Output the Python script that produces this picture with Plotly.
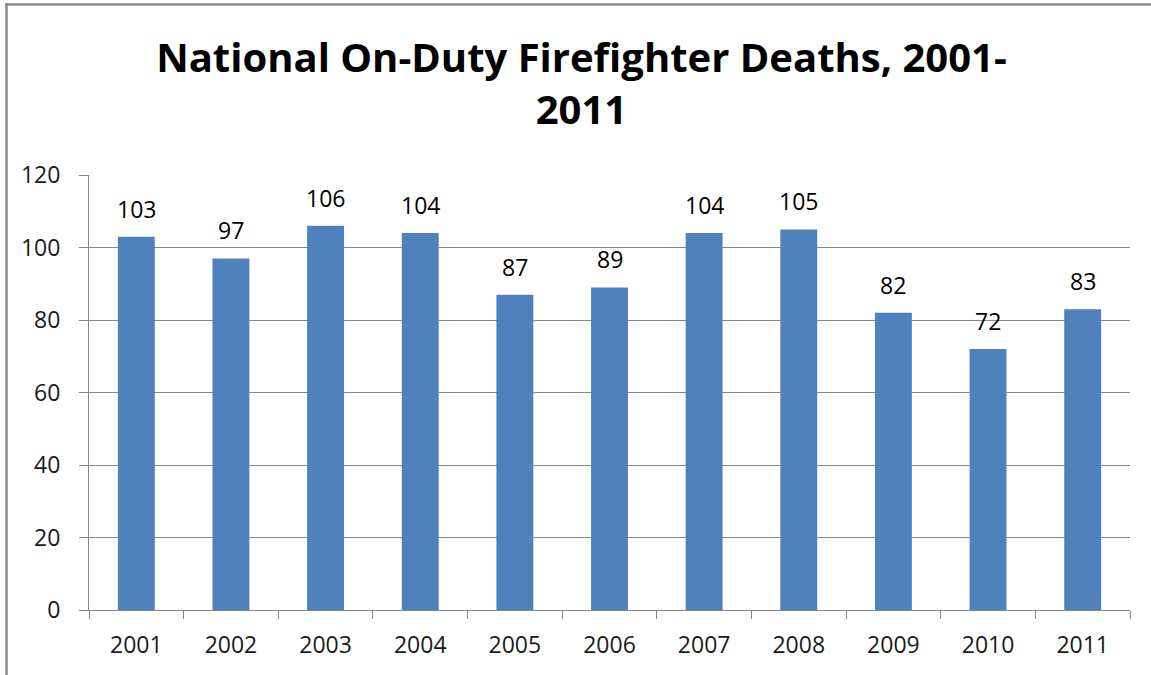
import plotly.graph_objects as go

years = ["2001", "2002", "2003", "2004", "2005", "2006", "2007", "2008", "2009", "2010", "2011"]
deaths = [103, 97, 106, 104, 87, 89, 104, 105, 82, 72, 83]
y_ticks = [0, 20, 40, 60, 80, 100, 120]

W, H = 1151, 675
L, R, T, B = 89, 21, 175, 65
pw, ph = W - L - R, H - T - B
FONT = "Open Sans"

def px_x(x):
    return (x - L) / pw

def px_y(y):
    return (H - B - y) / ph

fig = go.Figure(go.Bar(
    x=years, y=deaths,
    marker=dict(color="#4F81BD", line=dict(width=0)),
    hoverinfo="x+y",
))

# category axis: annotation x given as the category's serial index
annotations = [
    dict(x=i, y=v, xref="x", yref="y", text=str(v), showarrow=False,
         yanchor="bottom", yshift=10,
         font=dict(family=FONT, size=23, color="#000000"))
    for i, v in enumerate(deaths)
]

fig.update_layout(
    width=W, height=H,
    margin=dict(l=L, r=R, t=T, b=B),
    paper_bgcolor="white", plot_bgcolor="white",
    bargap=0.61,
    showlegend=False,
    title=dict(
        text="<b>National On-Duty Firefighter Deaths, 2001-<br>2011</b>",
        x=581.5 / W, xanchor="center", y=1 - 72 / H, yanchor="middle",
        font=dict(family=FONT, size=40, color="#000000"),
    ),
    xaxis=dict(
        type="category", showgrid=False, showline=True, linecolor="#868686", linewidth=1,
        ticks="outside", ticklen=8, tickcolor="#868686", tickson="boundaries",
        ticklabelstandoff=14, tickangle=0,
        tickfont=dict(family=FONT, size=23, color="#1a1a1a"),
    ),
    yaxis=dict(
        range=[0, 120], tickvals=y_ticks, showgrid=True, gridcolor="#878787", gridwidth=1,
        showline=True, linecolor="#868686", linewidth=1, zeroline=False,
        ticks="outside", ticklen=9, tickcolor="#868686", ticklabelstandoff=14,
        tickfont=dict(family=FONT, size=23, color="#1a1a1a"),
    ),
    annotations=annotations,
    shapes=[
        dict(type="line", xref="paper", yref="paper", x0=px_x(6.5), x1=px_x(6.5), y0=px_y(3), y1=px_y(H + 5),
             line=dict(color="#8a8a8a", width=2.5)),
        dict(type="line", xref="paper", yref="paper", x0=px_x(5), x1=px_x(W + 5), y0=px_y(4.5), y1=px_y(4.5),
             line=dict(color="#8a8a8a", width=2.5)),
    ],
)

fig.write_html(
    "out.html",
    config={"displayModeBar": False},
    post_script="document.body.style.margin='0';document.body.style.overflow='hidden';",
)
